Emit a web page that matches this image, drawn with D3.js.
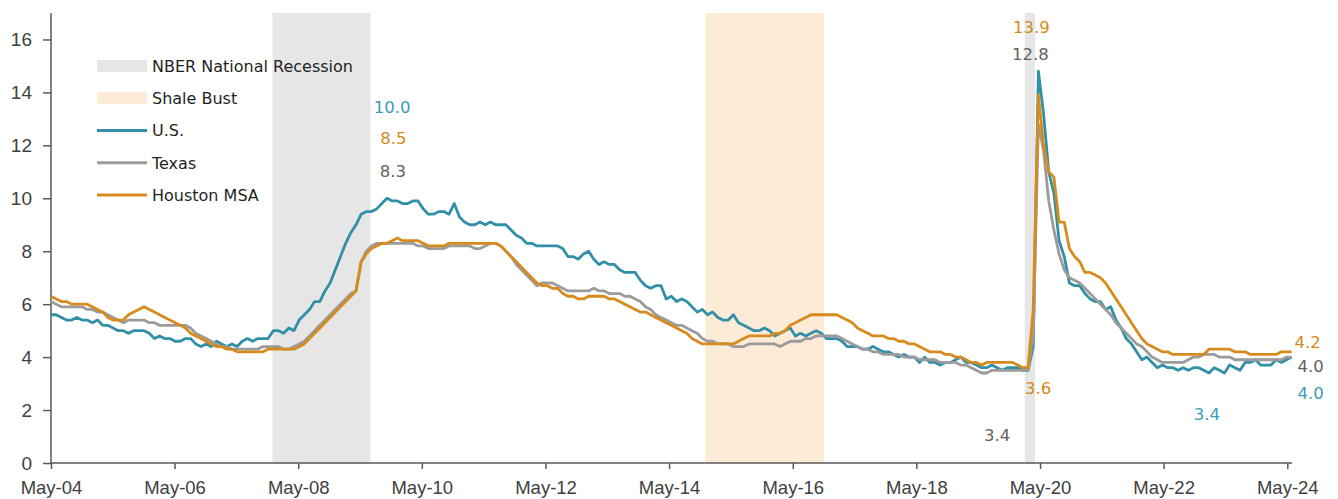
<!DOCTYPE html>
<html>
<head>
<meta charset="utf-8">
<script src="https://cdn.jsdelivr.net/npm/d3@7"></script>
<style>
  html, body { margin: 0; padding: 0; background: #ffffff; }
  svg { display: block; font-family: "DejaVu Sans", "Noto Sans", sans-serif; }
</style>
</head>
<body>
<svg id="chart" width="1338" height="499"></svg>
<script>
// Unemployment rate (%), monthly, May 2004 - May 2024
const firstMonth = new Date(2004, 4, 1);

const usRate = [
  5.6, 5.6, 5.5, 5.4, 5.4, 5.5, 5.4, 5.4,
  5.3, 5.4, 5.2, 5.2, 5.1, 5.0, 5.0, 4.9, 5.0, 5.0, 5.0, 4.9,
  4.7, 4.8, 4.7, 4.7, 4.6, 4.6, 4.7, 4.7, 4.5, 4.4, 4.5, 4.4,
  4.6, 4.5, 4.4, 4.5, 4.4, 4.6, 4.7, 4.6, 4.7, 4.7, 4.7, 5.0,
  5.0, 4.9, 5.1, 5.0, 5.4, 5.6, 5.8, 6.1, 6.1, 6.5, 6.8, 7.3,
  7.8, 8.3, 8.7, 9.0, 9.4, 9.5, 9.5, 9.6, 9.8, 10.0, 9.9, 9.9,
  9.8, 9.8, 9.9, 9.9, 9.6, 9.4, 9.4, 9.5, 9.5, 9.4, 9.8, 9.3,
  9.1, 9.0, 9.0, 9.1, 9.0, 9.1, 9.0, 9.0, 9.0, 8.8, 8.6, 8.5,
  8.3, 8.3, 8.2, 8.2, 8.2, 8.2, 8.2, 8.1, 7.8, 7.8, 7.7, 7.9,
  8.0, 7.7, 7.5, 7.6, 7.5, 7.5, 7.3, 7.2, 7.2, 7.2, 6.9, 6.7,
  6.6, 6.7, 6.7, 6.2, 6.3, 6.1, 6.2, 6.1, 5.9, 5.7, 5.8, 5.6,
  5.7, 5.5, 5.4, 5.4, 5.6, 5.3, 5.2, 5.1, 5.0, 5.0, 5.1, 5.0,
  4.8, 4.9, 5.0, 5.1, 4.8, 4.9, 4.8, 4.9, 5.0, 4.9, 4.7, 4.7,
  4.7, 4.6, 4.4, 4.4, 4.4, 4.3, 4.3, 4.4, 4.3, 4.2, 4.2, 4.1,
  4.0, 4.1, 4.0, 4.0, 3.8, 4.0, 3.8, 3.8, 3.7, 3.8, 3.8, 3.9,
  4.0, 3.8, 3.8, 3.7, 3.6, 3.6, 3.7, 3.6, 3.5, 3.6, 3.6, 3.6,
  3.5, 3.5, 4.4, 14.8, 13.2, 11.0, 10.2, 8.4, 7.8, 6.8, 6.7, 6.7,
  6.4, 6.2, 6.1, 6.1, 5.8, 5.9, 5.4, 5.1, 4.7, 4.5, 4.2, 3.9,
  4.0, 3.8, 3.6, 3.7, 3.6, 3.6, 3.5, 3.6, 3.5, 3.6, 3.6, 3.5,
  3.4, 3.6, 3.5, 3.4, 3.7, 3.6, 3.5, 3.8, 3.8, 3.9, 3.7, 3.7,
  3.7, 3.9, 3.8, 3.9, 4.0
];

const texasRate = [
  6.1, 6.0, 5.9, 5.9, 5.9, 5.9, 5.9, 5.8, 5.8, 5.7,
  5.7, 5.6, 5.5, 5.4, 5.3, 5.4, 5.4, 5.4, 5.4, 5.3,
  5.3, 5.2, 5.2, 5.2, 5.2, 5.2, 5.2, 5.1, 4.9, 4.8,
  4.7, 4.6, 4.5, 4.4, 4.4, 4.3, 4.3, 4.3, 4.3, 4.3,
  4.3, 4.4, 4.4, 4.4, 4.4, 4.3, 4.3, 4.4, 4.5, 4.6,
  4.8, 5.0, 5.2, 5.4, 5.6, 5.8, 6.0, 6.2, 6.4, 6.5,
  7.6, 8.0, 8.2, 8.3, 8.3, 8.3, 8.3, 8.3, 8.3, 8.3,
  8.3, 8.2, 8.2, 8.1, 8.1, 8.1, 8.1, 8.2, 8.2, 8.2,
  8.2, 8.2, 8.1, 8.1, 8.2, 8.3, 8.3, 8.2, 8.0, 7.8,
  7.5, 7.3, 7.1, 6.9, 6.7, 6.8, 6.8, 6.8, 6.7, 6.6,
  6.5, 6.5, 6.5, 6.5, 6.5, 6.6, 6.5, 6.5, 6.4, 6.4,
  6.4, 6.3, 6.3, 6.2, 6.1, 5.9, 5.8, 5.6, 5.5, 5.4,
  5.3, 5.2, 5.2, 5.1, 5.0, 4.9, 4.7, 4.6, 4.6, 4.5,
  4.5, 4.5, 4.4, 4.4, 4.4, 4.5, 4.5, 4.5, 4.5, 4.5,
  4.5, 4.4, 4.5, 4.6, 4.6, 4.6, 4.7, 4.7, 4.8, 4.8,
  4.8, 4.8, 4.8, 4.7, 4.6, 4.5, 4.4, 4.3, 4.3, 4.2,
  4.2, 4.1, 4.1, 4.1, 4.1, 4.0, 4.0, 4.0, 3.9, 3.9,
  3.9, 3.9, 3.8, 3.8, 3.8, 3.8, 3.7, 3.7, 3.6, 3.5,
  3.4, 3.4, 3.5, 3.5, 3.5, 3.5, 3.5, 3.5, 3.5, 3.5,
  4.8, 12.8, 11.8, 9.9, 8.8, 7.9, 7.3, 7.0, 6.9, 6.8,
  6.6, 6.4, 6.2, 6.0, 5.8, 5.6, 5.3, 5.1, 4.9, 4.7,
  4.5, 4.4, 4.2, 4.0, 3.9, 3.8, 3.8, 3.8, 3.8, 3.8,
  3.9, 4.0, 4.0, 4.1, 4.1, 4.1, 4.0, 4.0, 4.0, 3.9,
  3.9, 3.9, 3.9, 3.9, 3.9, 3.9, 3.9, 3.9, 3.9, 4.0, 4.0
];

const houstonRate = [
  6.3, 6.2, 6.1, 6.1, 6.0, 6.0, 6.0, 6.0, 5.9, 5.8,
  5.7, 5.5, 5.4, 5.4, 5.4, 5.6, 5.7, 5.8, 5.9, 5.8,
  5.7, 5.6, 5.5, 5.4, 5.3, 5.2, 5.1, 4.9, 4.8, 4.7,
  4.6, 4.5, 4.4, 4.4, 4.3, 4.3, 4.2, 4.2, 4.2, 4.2,
  4.2, 4.2, 4.3, 4.3, 4.3, 4.3, 4.3, 4.3, 4.4, 4.5,
  4.7, 4.9, 5.1, 5.3, 5.5, 5.7, 5.9, 6.1, 6.3, 6.5,
  7.6, 7.9, 8.1, 8.2, 8.3, 8.3, 8.4, 8.5, 8.4, 8.4,
  8.4, 8.4, 8.3, 8.2, 8.2, 8.2, 8.2, 8.3, 8.3, 8.3,
  8.3, 8.3, 8.3, 8.3, 8.3, 8.3, 8.3, 8.2, 8.0, 7.8,
  7.6, 7.4, 7.2, 7.0, 6.8, 6.7, 6.7, 6.6, 6.6, 6.4,
  6.3, 6.3, 6.2, 6.2, 6.3, 6.3, 6.3, 6.3, 6.2, 6.2,
  6.1, 6.0, 5.9, 5.8, 5.7, 5.7, 5.6, 5.5, 5.4, 5.3,
  5.2, 5.1, 5.0, 4.9, 4.7, 4.6, 4.5, 4.5, 4.5, 4.5,
  4.5, 4.5, 4.5, 4.6, 4.7, 4.8, 4.8, 4.8, 4.8, 4.8,
  4.9, 4.9, 5.0, 5.2, 5.3, 5.4, 5.5, 5.6, 5.6, 5.6,
  5.6, 5.6, 5.6, 5.5, 5.4, 5.3, 5.1, 5.0, 4.9, 4.8,
  4.8, 4.8, 4.7, 4.7, 4.6, 4.6, 4.5, 4.5, 4.4, 4.3,
  4.2, 4.2, 4.2, 4.1, 4.1, 4.0, 4.0, 3.9, 3.8, 3.8,
  3.7, 3.8, 3.8, 3.8, 3.8, 3.8, 3.8, 3.7, 3.6, 3.6,
  5.8, 13.9, 12.0, 11.0, 10.8, 9.1, 9.1, 8.1, 7.8, 7.6,
  7.2, 7.2, 7.1, 7.0, 6.8, 6.5, 6.2, 5.9, 5.6, 5.3,
  5.0, 4.7, 4.5, 4.4, 4.3, 4.2, 4.2, 4.1, 4.1, 4.1,
  4.1, 4.1, 4.1, 4.1, 4.3, 4.3, 4.3, 4.3, 4.3, 4.2,
  4.2, 4.2, 4.1, 4.1, 4.1, 4.1, 4.1, 4.1, 4.2, 4.2, 4.2
];

const seriesNames = ["U.S.", "Texas", "Houston MSA"];
const seriesValues = [usRate, texasRate, houstonRate];

const tickYears = [2004, 2006, 2008, 2010, 2012, 2014, 2016, 2018, 2020, 2022, 2024];
const yTickValues = [0, 2, 4, 6, 8, 10, 12, 14, 16];

const periodNames = ["NBER National Recession", "Shale Bust", "NBER National Recession"];
const periodStarts = ["2007-12-01", "2014-12-01", "2020-02-01"];
const periodEnds = ["2009-07-01", "2016-11-01", "2020-04-01"];

// value callouts: which series and which month (index from May 2004)
const calloutSeries = ["U.S.", "Houston MSA", "Texas", "Houston MSA", "Texas", "Houston MSA", "Texas", "U.S.", "Houston MSA", "Texas", "U.S."];
const calloutMonth = [65, 67, 64, 191, 191, 189, 180, 224, 240, 240, 240];

// ---- layout & style ----
const plot = { left: 51, top: 13, bottom: 463, lastPointX: 1291.7, lastTickX: 1287.3, axisEnd: 1292 };
const calloutNudge = [[5, -91], [-4, -100], [11, -72], [-7, -68], [-8, -70], [10, 20], [15.5, 62.5], [-2, 41], [16, -10], [19, 9], [19, 36]];

const lineColor = { "U.S.": "#3190a8", "Texas": "#9b9b9b", "Houston MSA": "#d68b1c" };
const labelColor = { "U.S.": "#3a9cb8", "Texas": "#626262", "Houston MSA": "#d38a20" };
const periodFill = { "NBER National Recession": "#e6e6e6", "Shale Bust": "#fbebd7" };

const svg = d3.select("#chart");
const parse = d3.timeParse("%Y-%m-%d");

const nMonths = usRate.length;
const xIdx = d3.scaleLinear().domain([0, nMonths - 1]).range([plot.left, plot.lastPointX]);
const xTime = d3.scaleTime()
  .domain([firstMonth, new Date(2024, 4, 1)])
  .range([plot.left, plot.lastTickX]);
const y = d3.scaleLinear().domain([0, 17]).range([plot.bottom, plot.top]);

// shaded periods
svg.append("g").selectAll("rect")
  .data(periodNames.map((n, i) => ({ name: n, start: parse(periodStarts[i]), end: parse(periodEnds[i]) })))
  .join("rect")
  .attr("x", d => xTime(d.start))
  .attr("width", d => xTime(d.end) - xTime(d.start))
  .attr("y", plot.top)
  .attr("height", plot.bottom - plot.top)
  .attr("fill", d => periodFill[d.name]);

// y axis
const yAxis = d3.axisLeft(y).tickValues(yTickValues).tickSize(8).tickPadding(11).tickFormat(d3.format("d"));
const gy = svg.append("g").attr("transform", `translate(${plot.left},0)`).call(yAxis);
gy.select(".domain").remove();
gy.selectAll(".tick line").attr("stroke", "#595959").attr("stroke-width", 1.5);
gy.selectAll(".tick text").attr("fill", "#404040").style("font-size", "19px");
svg.append("line")
  .attr("x1", plot.left).attr("x2", plot.left)
  .attr("y1", plot.top).attr("y2", plot.bottom)
  .attr("stroke", "#595959").attr("stroke-width", 1.5);

// x axis
const tickDates = tickYears.map(yr => new Date(yr, 4, 1));
const xAxis = d3.axisBottom(xTime).tickValues(tickDates).tickSize(6).tickPadding(11.5).tickFormat(d3.timeFormat("%b-%y"));
const gx = svg.append("g").attr("transform", `translate(0,${plot.bottom})`).call(xAxis);
gx.select(".domain").remove();
gx.selectAll(".tick line").attr("stroke", "#595959").attr("stroke-width", 1.5);
gx.selectAll(".tick text").attr("fill", "#404040").style("font-size", "18.5px");
svg.append("line")
  .attr("x1", plot.left).attr("x2", plot.axisEnd)
  .attr("y1", plot.bottom).attr("y2", plot.bottom)
  .attr("stroke", "#595959").attr("stroke-width", 1.5);

// series lines
const line = d3.line().x((d, i) => xIdx(i)).y(d => y(d));
svg.append("g").selectAll("path")
  .data(seriesNames.map((n, i) => ({ name: n, values: seriesValues[i] })))
  .join("path")
  .attr("d", d => line(d.values))
  .attr("fill", "none")
  .attr("stroke", d => lineColor[d.name])
  .attr("stroke-width", 2.8)
  .attr("stroke-linejoin", "round");

// value callouts
const fmt = d3.format(".1f");
svg.append("g").selectAll("text")
  .data(calloutSeries.map((s, i) => ({ s, m: calloutMonth[i], v: seriesValues[seriesNames.indexOf(s)][calloutMonth[i]], nudge: calloutNudge[i] })))
  .join("text")
  .attr("x", d => xIdx(d.m) + d.nudge[0])
  .attr("y", d => y(d.v) + d.nudge[1])
  .attr("dy", "0.36em")
  .attr("text-anchor", "middle")
  .attr("fill", d => labelColor[d.s])
  .style("font-size", "16.5px")
  .text(d => fmt(d.v));

// legend
const legendRows = [
  { name: "NBER National Recession", kind: "area" },
  { name: "Shale Bust", kind: "area" },
  { name: "U.S.", kind: "line" },
  { name: "Texas", kind: "line" },
  { name: "Houston MSA", kind: "line" }
];
const legendY = d3.scalePoint().domain(legendRows.map(d => d.name)).range([66, 195]);
const lg = svg.append("g");
legendRows.forEach(r => {
  const cy = legendY(r.name);
  if (r.kind === "area") {
    lg.append("rect").attr("x", 97).attr("y", cy - 6).attr("width", 50).attr("height", 12)
      .attr("fill", periodFill[r.name]);
  } else {
    lg.append("line").attr("x1", 97).attr("x2", 147).attr("y1", cy).attr("y2", cy)
      .attr("stroke", lineColor[r.name]).attr("stroke-width", 3);
  }
  lg.append("text").attr("x", 152).attr("y", cy).attr("dy", "0.36em")
    .attr("fill", "#1f1f1f").style("font-size", "16px").text(r.name);
});
</script>
</body>
</html>
